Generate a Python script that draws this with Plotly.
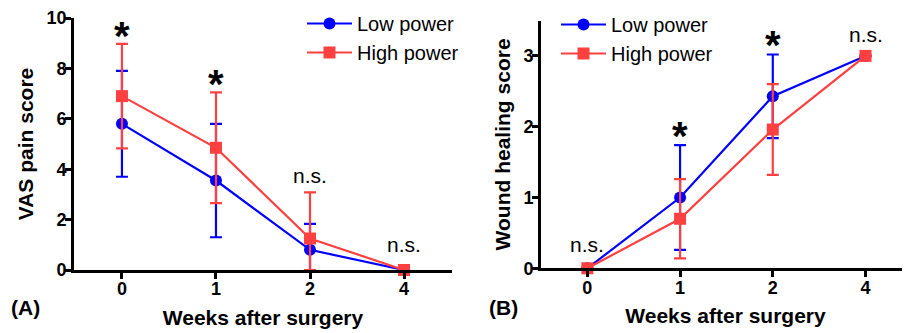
import plotly.graph_objects as go

weeks = ["0", "1", "2", "4"]

# Panel A: VAS pain score (mean, SD)
vas_low_mean = [5.8, 3.55, 0.8, 0.0]
vas_low_sd = [2.1, 2.25, 1.03, 0.0]
vas_high_mean = [6.9, 4.85, 1.25, 0.0]
vas_high_sd = [2.07, 2.2, 1.83, 0.0]

# Panel B: Wound healing score (mean, SD)
wh_low_mean = [0.0, 1.0, 2.43, 3.0]
wh_low_sd = [0.0, 0.74, 0.59, 0.0]
wh_high_mean = [0.0, 0.7, 1.96, 3.0]
wh_high_sd = [0.0, 0.56, 0.64, 0.0]

vas_marks = [("0", 9.52, "*"), ("1", 7.6, "*"), ("2", 3.77, "n.s."), ("4", 1.0, "n.s.")]
wh_marks = [("0", 0.33, "n.s."), ("1", 1.95, "*"), ("2", 3.24, "*"), ("4", 3.3, "n.s.")]

BLUE = "#0000FF"
RED = "#FF4040"
FONT = "Liberation Sans"

# page body has an 8px margin: figure spans the rest of the 910x333 window
W, H, OFF = 902, 325, 8


def px(p):
    return (p - OFF) / W


def py(p):
    return 1 - (p - OFF) / H


fig = go.Figure()


def add_series(mean, sd, name, color, symbol, xa, ya, legend):
    minus = [min(s, m) for s, m in zip(sd, mean)]
    fig.add_trace(go.Scatter(
        x=weeks, y=mean, name=name, mode="lines+markers",
        line=dict(color=color, width=2.2),
        marker=dict(color=color, symbol=symbol, size=12),
        error_y=dict(type="data", symmetric=False, array=sd, arrayminus=minus,
                     color=color, thickness=2.2, width=6),
        xaxis=xa, yaxis=ya, legend=legend, cliponaxis=False,
    ))


add_series(vas_low_mean, vas_low_sd, "Low power", BLUE, "circle", "x", "y", "legend")
add_series(vas_high_mean, vas_high_sd, "High power", RED, "square", "x", "y", "legend")
add_series(wh_low_mean, wh_low_sd, "Low power", BLUE, "circle", "x2", "y2", "legend2")
add_series(wh_high_mean, wh_high_sd, "High power", RED, "square", "x2", "y2", "legend2")

axis_common = dict(
    showline=True, linewidth=2.6, linecolor="black", ticks="outside",
    ticklen=6, tickwidth=2.6, tickcolor="black", showgrid=False, zeroline=False,
    automargin=False, ticklabelstandoff=-5,
    tickfont=dict(family=FONT, size=18, color="black", weight="bold"),
)
title_font = dict(family=FONT, size=21, color="black", weight="bold")

fig.update_layout(
    width=W, height=H,
    margin=dict(l=0, r=0, t=0, b=0, autoexpand=False),
    paper_bgcolor="white", plot_bgcolor="white",
    xaxis=dict(axis_common, domain=[px(74), px(452)], type="category",
               categoryorder="array", categoryarray=weeks, range=[-0.51, 3.51],
               anchor="y",
               title=dict(text="Weeks after surgery", standoff=12, font=title_font)),
    yaxis=dict(axis_common, domain=[py(270), py(18)], range=[0, 10], dtick=2,
               anchor="x",
               title=dict(text="VAS pain score", standoff=8, font=title_font)),
    xaxis2=dict(axis_common, domain=[px(541), 1.0], type="category",
                categoryorder="array", categoryarray=weeks, range=[-0.5, 3.48],
                anchor="y2",
                title=dict(text="Weeks after surgery", standoff=12, font=title_font)),
    yaxis2=dict(axis_common, domain=[py(268.3), py(20.5)], range=[0, 3.5], dtick=1,
                anchor="x2",
                title=dict(text="Wound healing score", standoff=8, font=title_font)),
    legend=dict(x=px(302), y=py(4), xanchor="left", yanchor="top", itemwidth=45,
                bgcolor="rgba(0,0,0,0)", font=dict(family=FONT, size=20, color="black")),
    legend2=dict(x=px(556), y=py(5), xanchor="left", yanchor="top", itemwidth=45,
                 bgcolor="rgba(0,0,0,0)", font=dict(family=FONT, size=20, color="black")),
)

annos = []
for xa, ya, marks in (("x", "y", vas_marks), ("x2", "y2", wh_marks)):
    for cat, yv, txt in marks:
        xi = weeks.index(cat)
        if txt == "*":
            annos.append(dict(x=xi, y=yv, xref=xa, yref=ya, text=txt, showarrow=False,
                              yshift=-6, font=dict(family=FONT, size=40, color="black", weight="bold")))
        else:
            annos.append(dict(x=xi, y=yv, xref=xa, yref=ya, text=txt, showarrow=False,
                              yshift=0, font=dict(family=FONT, size=21, color="black")))

annos.append(dict(x=px(25), y=py(307), xref="paper", yref="paper", text="(A)",
                  showarrow=False, xanchor="center", yanchor="middle",
                  font=dict(family=FONT, size=21, color="black", weight="bold")))
annos.append(dict(x=px(503), y=py(307), xref="paper", yref="paper", text="(B)",
                  showarrow=False, xanchor="center", yanchor="middle",
                  font=dict(family=FONT, size=21, color="black", weight="bold")))
fig.update_layout(annotations=annos)

fig.write_html("out.html")
